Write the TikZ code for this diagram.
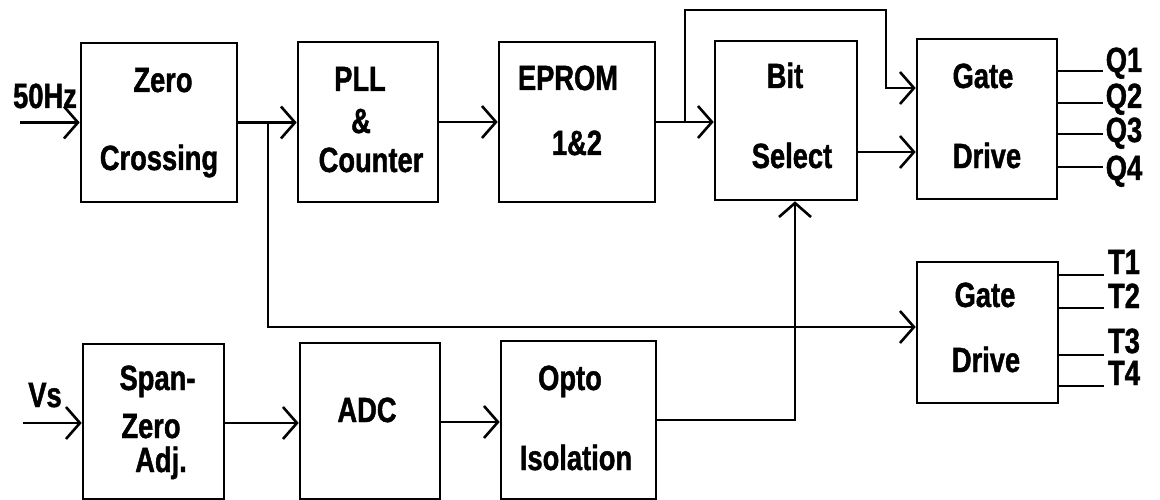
\documentclass[tikz,border=0pt]{standalone}
\usepackage{fontspec}
\newfontfamily\diagfont{Liberation Sans}[FakeStretch=0.78,FakeBold=1.2]
\usetikzlibrary{arrows.meta}
\begin{document}
\begin{tikzpicture}[x=1pt,y=-1pt,
  blk/.style={draw,line width=2.6pt,inner sep=0pt,minimum width=#1},
  lbl/.style={anchor=base,inner sep=0pt,font=\diagfont\bfseries\fontsize{35}{38}\selectfont},
  wire/.style={line width=2.6pt},
  arr/.style={line width=2.6pt,-{Straight Barb[length=14pt,width=32pt,line width=2.6pt]}}]
\useasboundingbox[fill=white] (0,0) rectangle (1160,500);
% boxes
\node[blk=156pt,minimum height=159pt] (zc) at (159,122.5) {};
\node[blk=140pt,minimum height=160pt] (pll) at (368,122) {};
\node[blk=156pt,minimum height=160pt] (ep) at (577,122) {};
\node[blk=142pt,minimum height=159pt] (bs) at (786,120.5) {};
\node[blk=140pt,minimum height=160pt] (gd1) at (987,119) {};
\node[blk=141pt,minimum height=141pt] (gd2) at (987.5,332.5) {};
\node[blk=141pt,minimum height=155pt] (sz) at (153.5,421.5) {};
\node[blk=140pt,minimum height=156pt] (adc) at (370,421) {};
\node[blk=155pt,minimum height=158pt] (op) at (578.5,420) {};
% texts
\node[lbl] (t1) at (163,92) {Zero};
\node[lbl] (t2) at (159,170) {Crossing};
\node[lbl] (t3) at (360,91) {PLL};
\node[lbl] (t4) at (361,133) {\&};
\node[lbl] (t5) at (371,172) {Counter};
\node[lbl] (t6) at (568,90) {EPROM};
\node[lbl] (t7) at (577,155) {1\&2};
\node[lbl] (t8) at (785,88) {Bit};
\node[lbl] (t9) at (792,168) {Select};
\node[lbl] (t10) at (983,88) {Gate};
\node[lbl] (t11) at (987,168) {Drive};
\node[lbl] (t12) at (985,307) {Gate};
\node[lbl] (t13) at (986,372) {Drive};
\node[lbl] (t14) at (157.5,390) {Span-};
\node[lbl] (t15) at (151,438) {Zero};
\node[lbl] (t16) at (161,472) {Adj.};
\node[lbl] (t17) at (367,422) {ADC};
\node[lbl] (t18) at (570,390) {Opto};
\node[lbl] (t19) at (576,470) {Isolation};
\node[lbl] (hz) at (45,108) {50Hz};
\node[lbl] (vs) at (45,407) {Vs};
\node[lbl] (q1) at (1124,72) {Q1};
\node[lbl] (q2) at (1124,108) {Q2};
\node[lbl] (q3) at (1124,142) {Q3};
\node[lbl] (q4) at (1124,180) {Q4};
\node[lbl] (tt1) at (1124,274) {T1};
\node[lbl] (tt2) at (1124,308) {T2};
\node[lbl] (tt3) at (1124,353) {T3};
\node[lbl] (tt4) at (1124,385) {T4};
% coordinates
\coordinate (in1) at (20,122.5);
\coordinate (in2) at (23,423);
\coordinate (br1) at (268,122.5);
\coordinate (br2) at (685,122);
\coordinate (c1) at (886,10);
% connectors
\draw[arr] (in1) -- (in1 -| zc.west);
\draw[arr] (zc.east) -- (zc.east -| pll.west);
\draw[arr] (br1) |- ([yshift=5.5pt]gd2.west);
\draw[arr] (pll.east) -- (pll.east -| ep.west);
\draw[arr] (ep.east) -- (ep.east -| bs.west);
\draw[arr] (br2) |- (c1) |- ([yshift=31pt]gd1.west);
\draw[arr] ([yshift=-31.5pt]bs.east) -- ([yshift=-31.5pt]bs.east -| gd1.west);
\draw[arr] (in2) -- (in2 -| sz.west);
\draw[arr] ([yshift=-1.5pt]sz.east) -- ([yshift=-1.5pt]sz.east -| adc.west);
\draw[arr] ([yshift=-1pt]adc.east) -- ([yshift=-1pt]adc.east -| op.west);
\draw[arr] (op.east) -| ([xshift=9pt]bs.south);
% outputs
\draw[wire] ([yshift=48pt]gd1.east) -- ++(45,0);
\draw[wire] ([yshift=16pt]gd1.east) -- ++(45,0);
\draw[wire] ([yshift=-15pt]gd1.east) -- ++(45,0);
\draw[wire] ([yshift=-48pt]gd1.east) -- ++(45,0);
\draw[wire] ([yshift=57.5pt]gd2.east) -- ++(45,0);
\draw[wire] ([yshift=24.5pt]gd2.east) -- ++(45,0);
\draw[wire] ([yshift=-22.5pt]gd2.east) -- ++(45,0);
\draw[wire] ([yshift=-53.5pt]gd2.east) -- ++(45,0);
\end{tikzpicture}
\end{document}
